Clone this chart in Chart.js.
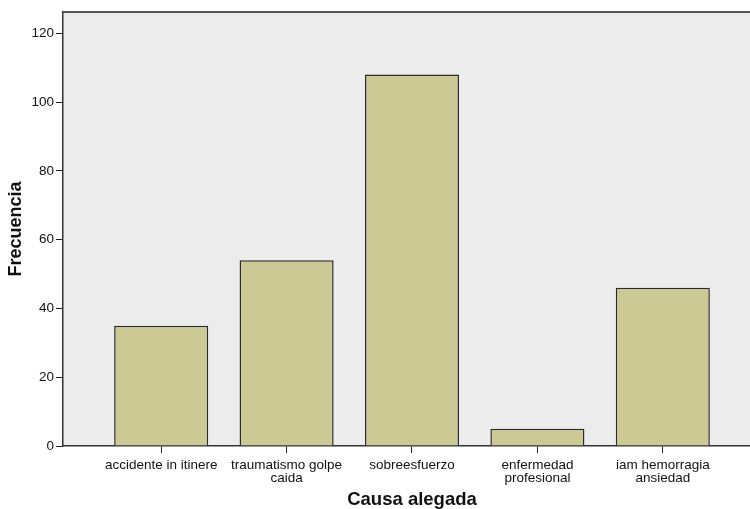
<!DOCTYPE html>
<html>
  <head>
    <meta charset="utf-8">
    <script src="https://cdn.jsdelivr.net/npm/chart.js"></script>
    <style>
      html, body { margin: 0; padding: 0; background: #fff; overflow: hidden; }
      canvas { display: block; }
    </style>
  </head>
  <body>
    <canvas id="grafico" width="761" height="509"></canvas>
    <script>
      // datos
      const categorias = [
        ['accidente in itinere'],
        ['traumatismo golpe', 'caida'],
        ['sobreesfuerzo'],
        ['enfermedad', 'profesional'],
        ['iam hemorragia', 'ansiedad']
      ];
      const frecuencias = [35, 54, 108, 5, 46];
      const ticksY = [0, 20, 40, 60, 80, 100, 120];

      const fuente = "'Liberation Sans', Arial, sans-serif";

      // fondo gris del area del grafico y borde superior
      const fondoArea = {
        id: 'fondoArea',
        beforeDraw(chart) {
          const { ctx, chartArea: a } = chart;
          ctx.save();
          ctx.fillStyle = '#ececec';
          ctx.fillRect(a.left, a.top, a.right - a.left, a.bottom - a.top);
          ctx.restore();
        },
        afterDraw(chart) {
          const { ctx, chartArea: a } = chart;
          ctx.save();
          ctx.strokeStyle = '#555';
          ctx.lineWidth = 2;
          ctx.beginPath();
          ctx.moveTo(a.left, a.top);
          ctx.lineTo(a.right, a.top);
          ctx.stroke();
          ctx.restore();
        }
      };

      const ctx = document.getElementById('grafico').getContext('2d');
      new Chart(ctx, {
        type: 'bar',
        data: {
          datasets: [{
            data: frecuencias.map((v, i) => ({ x: i + 1, y: v })),
            backgroundColor: '#ccc994',
            borderColor: '#2b2b2b',
            borderWidth: 1.5,
            categoryPercentage: 1,
            barPercentage: 0.75
          }]
        },
        options: {
          responsive: false,
          animation: false,
          devicePixelRatio: 1,
          layout: { padding: { top: 12, left: 0, right: 0, bottom: 0 } },
          plugins: {
            legend: { display: false },
            tooltip: { enabled: false }
          },
          scales: {
            x: {
              type: 'linear',
              offset: false,
              min: 0.217,
              max: 5.783,
              afterBuildTicks: (s) => { s.ticks = categorias.map((c, i) => ({ value: i + 1 })); },
              afterFit: (s) => { s.height = 63; },
              grid: { display: true, offset: false, drawOnChartArea: false, drawTicks: true, tickLength: 7, color: '#222' },
              border: { display: true, color: '#333', width: 1.5 },
              ticks: {
                color: '#111',
                padding: 6,
                maxRotation: 0,
                autoSkip: false,
                font: { family: fuente, size: 13.5, lineHeight: 0.94 },
                callback: (v) => categorias[v - 1] || ''
              },
              title: {
                display: true,
                text: 'Causa alegada',
                color: '#111',
                padding: { top: 0, bottom: 0 },
                font: { family: fuente, size: 18.5, weight: 'bold', lineHeight: 1 }
              }
            },
            y: {
              min: 0,
              max: 126.2,
              afterBuildTicks: (s) => { s.ticks = ticksY.map(v => ({ value: v })); },
              afterFit: (s) => { s.width = 63; },
              grid: { display: true, drawOnChartArea: false, drawTicks: true, tickLength: 7, color: '#222' },
              border: { display: true, color: '#333', width: 1.5 },
              ticks: {
                color: '#111',
                padding: 2,
                font: { family: fuente, size: 13.5 }
              },
              title: {
                display: true,
                text: 'Frecuencia',
                color: '#111',
                padding: { top: 5, bottom: 0 },
                font: { family: fuente, size: 18, weight: 'bold', lineHeight: 1.2 }
              }
            }
          }
        },
        plugins: [fondoArea]
      });
    </script>
  </body>
</html>
